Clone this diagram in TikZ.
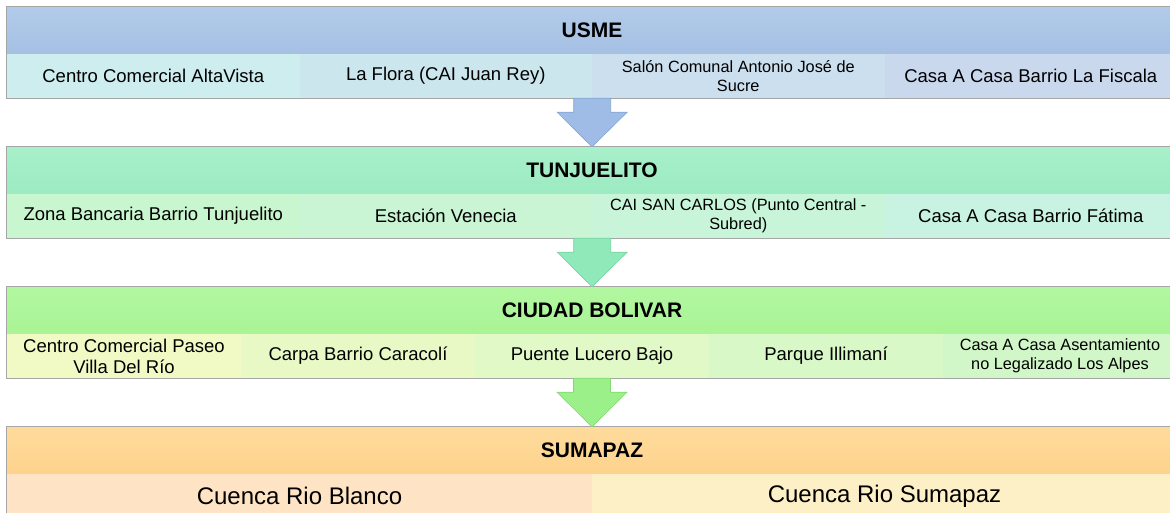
\documentclass[tikz,border=0pt]{standalone}
\usepackage{fontspec}
\setmainfont{Liberation Sans}
\usetikzlibrary{calc}

% band colours
\definecolor{usmetop}{HTML}{B2CBE9}
\definecolor{usmebot}{HTML}{A5C0E4}
\definecolor{usmeA}{HTML}{CDEDEF}
\definecolor{usmeB}{HTML}{CCE6EE}
\definecolor{usmeC}{HTML}{CBDFEE}
\definecolor{usmeD}{HTML}{CAD8EE}
\definecolor{usmearr}{HTML}{9EBCE5}
\definecolor{usmeline}{HTML}{86A6D3}
\definecolor{tunjtop}{HTML}{A8F0CA}
\definecolor{tunjbot}{HTML}{9CEBC2}
\definecolor{tunjA}{HTML}{C8F6CE}
\definecolor{tunjB}{HTML}{C9F5D4}
\definecolor{tunjC}{HTML}{C8F4D9}
\definecolor{tunjD}{HTML}{C8F2E1}
\definecolor{tunjarr}{HTML}{8FE9B9}
\definecolor{tunjline}{HTML}{78D3A2}
\definecolor{cbtop}{HTML}{B2F7A0}
\definecolor{cbbot}{HTML}{A9F495}
\definecolor{cbA}{HTML}{F1FAC5}
\definecolor{cbB}{HTML}{E8F9C6}
\definecolor{cbC}{HTML}{E0F9C7}
\definecolor{cbD}{HTML}{D8F8C8}
\definecolor{cbE}{HTML}{D1F7C9}
\definecolor{cbarr}{HTML}{9CF08A}
\definecolor{cbline}{HTML}{84D874}
\definecolor{sumtop}{HTML}{FEDB9C}
\definecolor{sumbot}{HTML}{FDD38C}
\definecolor{sumA}{HTML}{FEE4C4}
\definecolor{sumB}{HTML}{FDEFC6}

\begin{document}
\begin{tikzpicture}[
    x=1pt, y=-1pt,
    % Header style
    headbox/.style={
        rectangle,
        minimum width=1170pt,
        minimum height=47pt,
        inner sep=0pt,
        font=\fontsize{21}{24}\selectfont\bfseries
    },
    % Cell styles
    cellfour/.style={
        rectangle,
        minimum width=292.5pt,
        minimum height=44pt,
        inner sep=0pt,
        font=\fontsize{18.5}{21}\selectfont,
        align=center
    },
    cellfive/.style={
        cellfour,
        minimum width=234pt
    },
    celltwo/.style={
        cellfour,
        minimum width=585pt,
        font=\fontsize{24}{27}\selectfont
    },
    smalltext/.style={
        font=\fontsize{16.3}{19.5}\selectfont
    },
    bandline/.style={
        draw=black!35,
        line width=0.8pt
    },
    blockarrow/.style={
        line width=0.6pt,
        line join=miter
    }
]

\useasboundingbox (0,0) rectangle (1170,512);
\clip (0,0) rectangle (1170,512);

% === Band 1: USME ===
\node[headbox, top color=usmetop, bottom color=usmebot] (usmehead) at (592, 30.5) {USME};
\node[cellfour, fill=usmeA] (usme1) at (153.25, 76) {Centro Comercial AltaVista};
\node[cellfour, fill=usmeB] (usme2) at (445.75, 76) {La Flora (CAI Juan Rey)};
\node[cellfour, fill=usmeC, smalltext] (usme3) at (738.25, 76) {Salón Comunal Antonio José de\\Sucre};
\node[cellfour, fill=usmeD] (usme4) at (1030.75, 76) {Casa A Casa Barrio La Fiscala};
\draw[bandline] (usmehead.north west) rectangle (usme4.south east);

% === Band 2: TUNJUELITO ===
\node[headbox, top color=tunjtop, bottom color=tunjbot] (tunjhead) at (592, 170.5) {TUNJUELITO};
\node[cellfour, fill=tunjA] (tunj1) at (153.25, 216) {Zona Bancaria Barrio Tunjuelito};
\node[cellfour, fill=tunjB] (tunj2) at (445.75, 216) {Estación Venecia};
\node[cellfour, fill=tunjC, smalltext] (tunj3) at (738.25, 216) {CAI SAN CARLOS (Punto Central -\\Subred)};
\node[cellfour, fill=tunjD] (tunj4) at (1030.75, 216) {Casa A Casa Barrio Fátima};
\draw[bandline] (tunjhead.north west) rectangle (tunj4.south east);

% === Band 3: CIUDAD BOLIVAR ===
\node[headbox, top color=cbtop, bottom color=cbbot] (cbhead) at (592, 310.5) {CIUDAD BOLIVAR};
\node[cellfive, fill=cbA] (cb1) at (124, 356) {Centro Comercial Paseo\\Villa Del Río};
\node[cellfive, fill=cbB] (cb2) at (358, 356) {Carpa Barrio Caracolí};
\node[cellfive, fill=cbC] (cb3) at (592, 356) {Puente Lucero Bajo};
\node[cellfive, fill=cbD] (cb4) at (826, 356) {Parque Illimaní};
\node[cellfive, fill=cbE, smalltext] (cb5) at (1060, 356) {Casa A Casa Asentamiento\\no Legalizado Los Alpes};
\draw[bandline] (cbhead.north west) rectangle (cb5.south east);

% === Band 4: SUMAPAZ ===
\node[headbox, top color=sumtop, bottom color=sumbot] (sumhead) at (592, 450.5) {SUMAPAZ};
\node[celltwo, fill=sumA] (sum1) at (299.5, 496) {Cuenca Rio Blanco};
\node[celltwo, fill=sumB] (sum2) at (884.5, 496) {Cuenca Rio Sumapaz};
\draw[bandline] (sumhead.north west) rectangle (sum2.south east);

% === Block arrows between bands ===
\draw[blockarrow, fill=usmearr, draw=usmeline]
    ($(usme2.south east)+(-18.5,0)$) -- ($(usme2.south east)+(18.5,0)$)
    -- ($(usme2.south east)+(18.5,14)$) -- ($(usme2.south east)+(35,14)$)
    -- (tunjhead.north)
    -- ($(usme2.south east)+(-35,14)$) -- ($(usme2.south east)+(-18.5,14)$) -- cycle;
\draw[blockarrow, fill=tunjarr, draw=tunjline]
    ($(tunj2.south east)+(-18.5,0)$) -- ($(tunj2.south east)+(18.5,0)$)
    -- ($(tunj2.south east)+(18.5,14)$) -- ($(tunj2.south east)+(35,14)$)
    -- (cbhead.north)
    -- ($(tunj2.south east)+(-35,14)$) -- ($(tunj2.south east)+(-18.5,14)$) -- cycle;
\draw[blockarrow, fill=cbarr, draw=cbline]
    ($(cb3.south)+(-18.5,0)$) -- ($(cb3.south)+(18.5,0)$)
    -- ($(cb3.south)+(18.5,14)$) -- ($(cb3.south)+(35,14)$)
    -- (sumhead.north)
    -- ($(cb3.south)+(-35,14)$) -- ($(cb3.south)+(-18.5,14)$) -- cycle;

\end{tikzpicture}
\end{document}
